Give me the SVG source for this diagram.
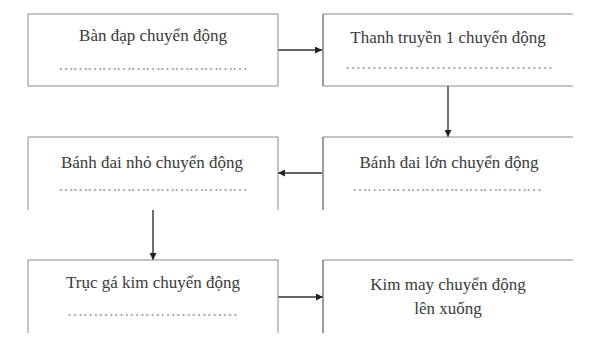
<svg xmlns="http://www.w3.org/2000/svg" width="603" height="349" viewBox="0 0 603 349">
<style>
.bx{fill:none;stroke:#8a8a8a;stroke-width:1}
.bxd{fill:none;stroke:#666;stroke-width:1.3}
.t{font-family:"Liberation Serif","Times New Roman",serif;font-size:17px;fill:#3a3a3a;text-anchor:middle}
.d{font-family:"Liberation Serif","Times New Roman",serif;font-size:16px;fill:#9a9a9a}
.c{fill:none;stroke:#333;stroke-width:1.4;marker-end:url(#ah)}
</style>
<defs>
<marker id="ah" viewBox="0 0 10 10" refX="10" refY="5" markerWidth="7" markerHeight="7" markerUnits="userSpaceOnUse" orient="auto">
<path d="M0,0 L10,5 L0,10 z" fill="#222"/>
</marker>
</defs>
<rect width="603" height="349" fill="#fff"/>
<g id="connectors">
<line class="c" x1="278" y1="50" x2="322" y2="50"/>
<line class="c" x1="448" y1="86" x2="448" y2="137"/>
<line class="c" x1="322" y1="173" x2="278" y2="173"/>
<line class="c" x1="153" y1="210" x2="153" y2="260"/>
<line class="c" x1="278" y1="297" x2="323" y2="297"/>
</g>
<g id="node1">
<path class="bx" d="M28,14 H278 V86 H28 Z"/>
<text class="t" x="153" y="41">Bàn đạp chuyển động</text>
<text class="d" x="58" y="70" textLength="190" lengthAdjust="spacing">…………………………………</text>
</g>
<g id="node2">
<path class="bx" d="M573,14 H323 M323,86 H573"/>
<path class="bxd" d="M323,14 V86"/>
<text class="t" x="448" y="43">Thanh truyền 1 chuyển động</text>
<text class="d" x="345" y="69" textLength="208" lengthAdjust="spacing">…………………………………</text>
</g>
<g id="node3">
<path class="bx" d="M28,210 V137 H278 V210"/>
<text class="t" x="152" y="168">Bánh đai nhỏ chuyển động</text>
<text class="d" x="58" y="191" textLength="190" lengthAdjust="spacing">…………………………………</text>
</g>
<g id="node4">
<path class="bx" d="M573,137 H323"/>
<path class="bxd" d="M323,137 V210"/>
<text class="t" x="449" y="168">Bánh đai lớn chuyển động</text>
<text class="d" x="352" y="191" textLength="190" lengthAdjust="spacing">…………………………………</text>
</g>
<g id="node5">
<path class="bx" d="M28,333 V260 H278 V333"/>
<text class="t" x="153" y="288">Trục gá kim chuyển động</text>
<text class="d" x="67" y="316" textLength="171" lengthAdjust="spacing">……………………………</text>
</g>
<g id="node6">
<path class="bx" d="M573,260 H323"/>
<path class="bxd" d="M323,260 V333"/>
<text class="t" x="448" y="290">Kim may chuyển động</text>
<text class="t" x="448" y="314">lên xuống</text>
</g>
</svg>
